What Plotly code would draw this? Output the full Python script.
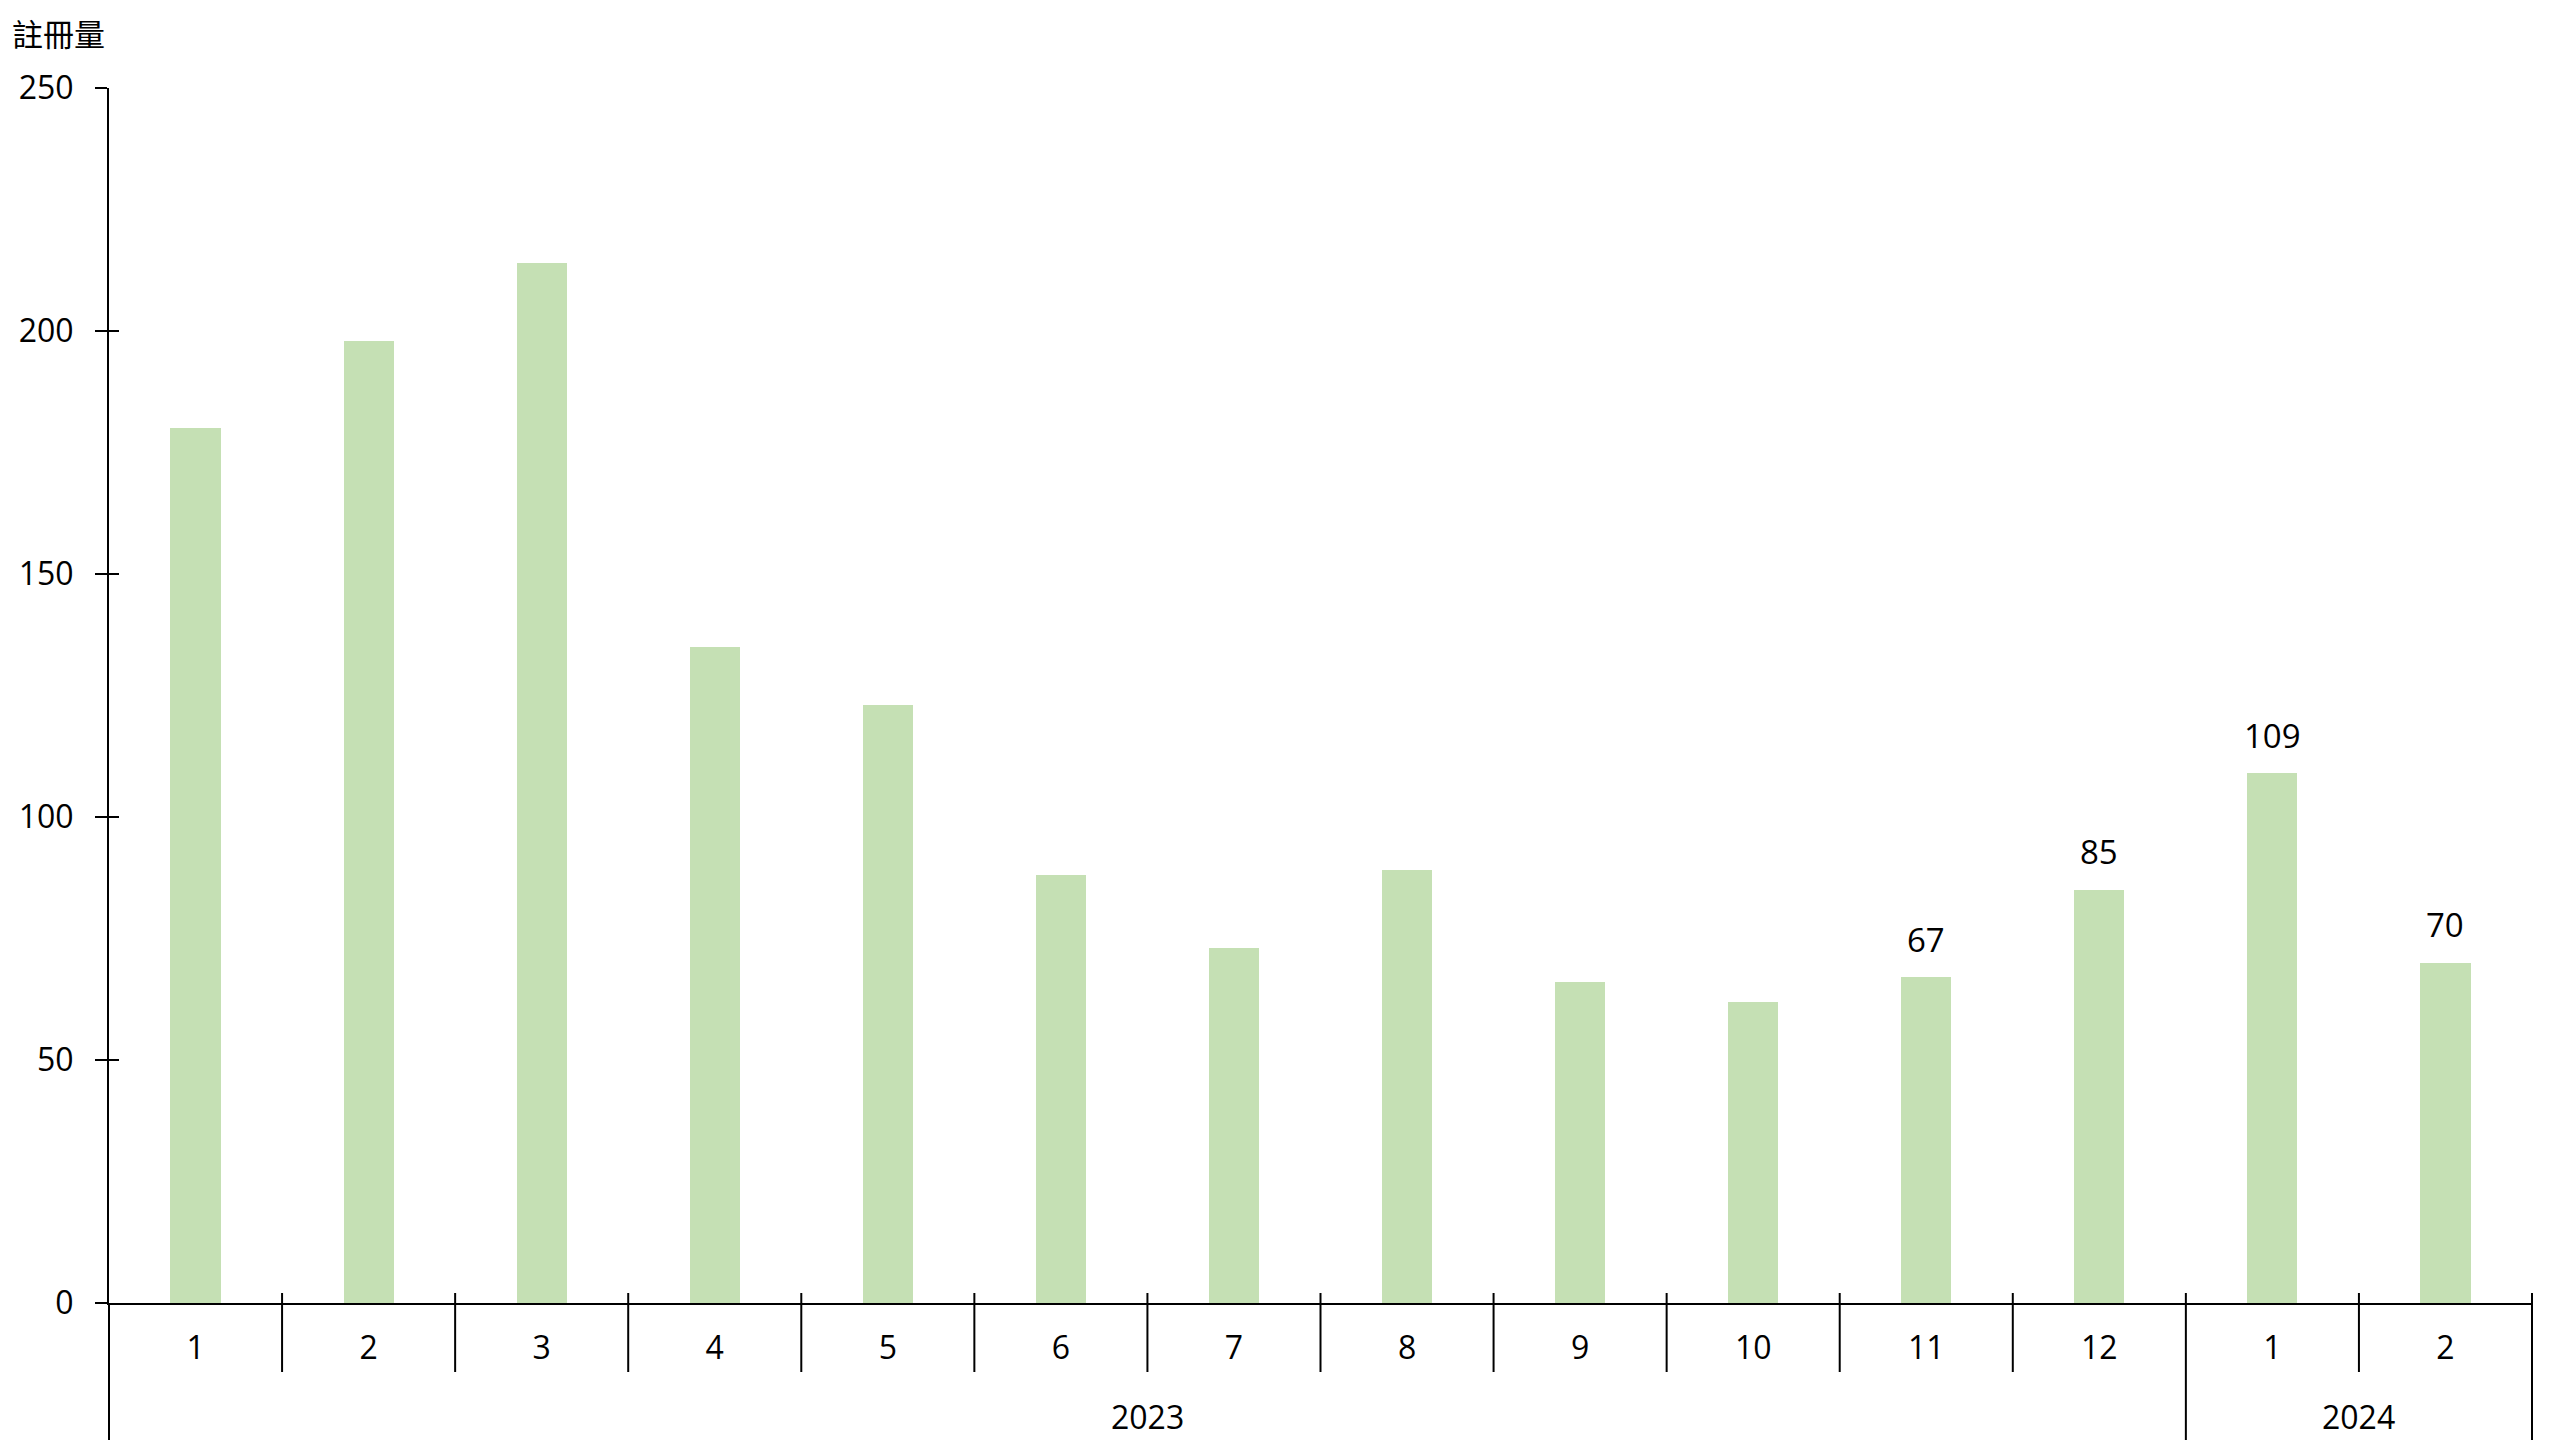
import plotly.graph_objects as go

# ---- data ----
years = ["2023"] * 12 + ["2024"] * 2
months = ["1", "2", "3", "4", "5", "6", "7", "8", "9", "10", "11", "12", "1", "2"]
values = [180, 198, 214, 135, 123, 88, 73, 89, 66, 62, 67, 85, 109, 70]
show_label = [False] * 10 + [True] * 4
y_ticks = [0, 50, 100, 150, 200, 250]
y_title = "註冊量"

BAR_COLOR = "#C5E0B4"
FONT = "Open Sans, Noto Sans CJK TC, sans-serif"
n = len(months)
idx = list(range(n))

fig = go.Figure()
fig.add_trace(go.Bar(x=idx, y=values, width=0.29, marker=dict(color=BAR_COLOR, line=dict(width=0)),
                     hoverinfo="skip", showlegend=False))
# empty trace to carry the inner half of the y ticks
fig.add_trace(go.Scatter(x=[], y=[], yaxis="y2", showlegend=False))

annotations = []
# data labels
for i, (v, s) in enumerate(zip(values, show_label)):
    if s:
        annotations.append(dict(x=i, y=v, xref="x", yref="y", text=str(v), showarrow=False,
                                yanchor="middle", yshift=38, font=dict(family=FONT, size=33, color="#000")))
# year labels
groups = []
for i, yv in enumerate(years):
    if not groups or groups[-1][0] != yv:
        groups.append([yv, i, i])
    else:
        groups[-1][2] = i
for yv, a, b in groups:
    annotations.append(dict(x=(a + b) / 2, y=0, xref="x", yref="paper", text=yv, showarrow=False,
                            yanchor="middle", yshift=-113, font=dict(family=FONT, size=32, color="#000")))
# axis title
annotations.append(dict(x=0, y=1, xref="paper", yref="paper", text=y_title, showarrow=False,
                        xanchor="left", yanchor="middle", xshift=-99, yshift=56,
                        font=dict(family="Noto Sans CJK TC, sans-serif", size=31, color="#000")))

shapes = []
LW = 2
# boundary ticks between months and year dividers
for k in range(n - 1):
    xb = k + 0.5
    if years[k] != years[k + 1]:
        y1 = -145
    else:
        y1 = -69
    shapes.append(dict(type="line", xref="x", yref="paper", ysizemode="pixel", yanchor=0,
                       x0=xb, x1=xb, y0=10, y1=y1, line=dict(color="#000", width=LW)))
# outer edges
for xd in (0, 1):
    shapes.append(dict(type="line", xref="x domain", yref="paper", ysizemode="pixel", yanchor=0,
                       x0=xd, x1=xd, y0=10 if xd == 1 else 0, y1=-145, line=dict(color="#000", width=LW)))

fig.update_layout(
    width=2552, height=1432,
    margin=dict(l=101, r=28, t=80, b=137, pad=0),
    paper_bgcolor="white", plot_bgcolor="white",
    font=dict(family=FONT, size=32, color="#000"),
    bargap=0,
    xaxis=dict(range=[-0.5, n - 0.5], tickmode="array", tickvals=idx, ticktext=months,
               ticks="", showgrid=False, zeroline=False, showline=True, linecolor="#000",
               linewidth=LW, ticklabelstandoff=16, tickfont=dict(family=FONT, size=32, color="#000"),
               fixedrange=True),
    yaxis=dict(range=[0, 250], tickmode="array", tickvals=y_ticks, ticks="outside", ticklen=12,
               tickwidth=LW, tickcolor="#000", showgrid=False, zeroline=False, showline=True,
               linecolor="#000", linewidth=LW, ticklabelstandoff=15,
               tickfont=dict(family=FONT, size=32, color="#000"), fixedrange=True),
    yaxis2=dict(range=[0, 250], overlaying="y", side="left", anchor="x", tickmode="array",
                tickvals=y_ticks, ticks="inside", ticklen=10, tickwidth=LW, tickcolor="#000",
                showticklabels=False, showgrid=False, zeroline=False, showline=False, fixedrange=True),
    annotations=annotations,
    shapes=shapes,
)

fig.write_html("out.html")
